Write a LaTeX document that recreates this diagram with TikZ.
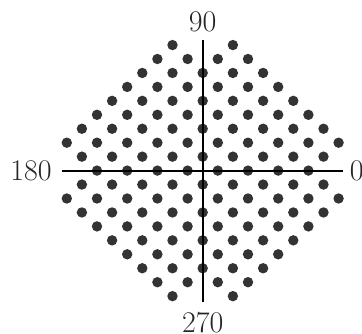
\documentclass[tikz,border=0pt]{standalone}
\usetikzlibrary{positioning}
\tikzset{
  dot/.style={fill=black!80},
  axis/.style={line width=1.9pt, black},
  lbl/.style={inner sep=0pt, text=black!85, font=\fontsize{30}{36}\selectfont}
}
\begin{document}
\begin{tikzpicture}[x=15.1pt, y=13.95pt]
\useasboundingbox (-202.7pt,-162.4pt) rectangle (159.3pt,170.6pt);
% dot lattice, diamond with the four tips cut off
\foreach \k in {-9,...,9} {
  \foreach \i in {-11,...,11} {
    \pgfmathtruncatemacro{\keep}{(mod(\i+\k+40,2)==1) && (abs(\i)+abs(\k)<12) && (abs(abs(\i)-10)+abs(\k)>1) && (abs(\i)+abs(abs(\k)-10)>1)}
    \ifnum\keep=1 \fill[dot] (\i,\k) circle[radius=5.2pt]; \fi
  }
}
\coordinate (w) at (-9.3,0); \coordinate (e) at (9.3,0);
\coordinate (n) at (0,9.36); \coordinate (s) at (0,-9.42);
\draw[axis] (w) -- (e);
\draw[axis] (n) -- (s);
\node[lbl, right=6.5pt of e] (deg0) {0};
\node[lbl, above=8.3pt of n] (deg90) {90};
\node[lbl, left=10.5pt of w] (deg180) {180};
\node[lbl, below=9.7pt of s] (deg270) {270};
\end{tikzpicture}
\end{document}
